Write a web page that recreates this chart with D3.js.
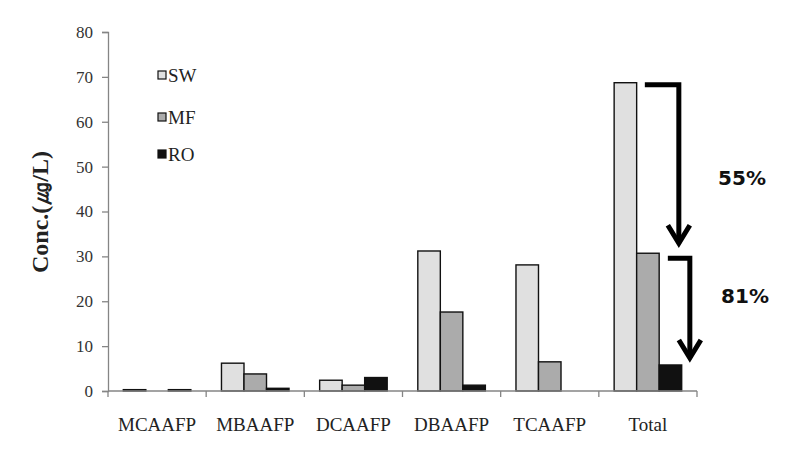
<!DOCTYPE html>
<html>
<head>
<meta charset="utf-8">
<script src="https://cdn.jsdelivr.net/npm/d3@7/dist/d3.min.js"></script>
<style>
  body { margin: 0; background: #fff; }
  svg { display: block; }
</style>
</head>
<body>
<div id="chart"></div>
<script>
// categories and series
const categories = ["MCAAFP", "MBAAFP", "DCAAFP", "DBAAFP", "TCAAFP", "Total"];
const seriesNames = ["SW", "MF", "RO"];
const swValues = [0.3, 6.2, 2.4, 31.2, 28.1, 68.7];
const mfValues = [0, 3.8, 1.3, 17.6, 6.5, 30.7];
const roValues = [0.3, 0.6, 3.0, 1.3, 0, 5.8];
const yTicks = [0, 10, 20, 30, 40, 50, 60, 70, 80];
const seriesColors = ["#e0e0e0", "#ababab", "#111111"];

const width = 786, height = 456;
const margin = { top: 32, left: 108, right: 89, bottom: 65 };

const svg = d3.select("#chart").append("svg")
  .attr("width", width)
  .attr("height", height);

const x = d3.scaleBand()
  .domain(categories)
  .range([margin.left, width - margin.right]);

const sub = d3.scaleBand()
  .domain(seriesNames)
  .range([0, x.bandwidth()])
  .paddingInner(0)
  .paddingOuter(0.68);

const y = d3.scaleLinear()
  .domain([0, 80])
  .range([height - margin.bottom, margin.top]);

const serif = "'Liberation Serif', 'DejaVu Serif', serif";

// bars
const rows = categories.map((c, i) => ({
  cat: c,
  vals: [swValues[i], mfValues[i], roValues[i]]
}));

const groups = svg.append("g")
  .selectAll("g")
  .data(rows)
  .join("g")
  .attr("transform", (d) => `translate(${x(d.cat)},0)`);

groups.selectAll("rect")
  .data((d) => d.vals.map((v, j) => ({ name: seriesNames[j], v, j })))
  .join("rect")
  .filter((d) => d.v > 0)
  .attr("x", (d) => sub(d.name))
  .attr("width", sub.bandwidth())
  .attr("y", (d) => y(d.v))
  .attr("height", (d) => y(0) - y(d.v))
  .attr("fill", (d) => seriesColors[d.j])
  .attr("stroke", "#111")
  .attr("stroke-width", 1.4);

// y axis
const yAxis = svg.append("g")
  .attr("transform", `translate(${margin.left},0)`)
  .call(d3.axisLeft(y).tickValues(yTicks).tickSize(6).tickPadding(9))
  .attr("font-family", serif)
  .attr("font-size", 17);
yAxis.select(".domain").attr("stroke", "#858585").attr("stroke-width", 1.3);
yAxis.selectAll(".tick line").attr("stroke", "#858585").attr("stroke-width", 1.3);
yAxis.selectAll(".tick text").attr("fill", "#333");

// x axis: baseline plus ticks at band boundaries
const xAxis = svg.append("g");
xAxis.append("line")
  .attr("x1", margin.left).attr("x2", width - margin.right)
  .attr("y1", y(0)).attr("y2", y(0))
  .attr("stroke", "#858585").attr("stroke-width", 1.3);
const bounds = categories.map((c) => x(c)).concat([x(categories[categories.length - 1]) + x.bandwidth()]);
xAxis.selectAll(".bt")
  .data(bounds)
  .join("line")
  .attr("x1", (d) => d).attr("x2", (d) => d)
  .attr("y1", y(0)).attr("y2", y(0) + 6)
  .attr("stroke", "#858585").attr("stroke-width", 1.3);
xAxis.selectAll("text")
  .data(categories)
  .join("text")
  .attr("x", (d) => x(d) + x.bandwidth() / 2)
  .attr("y", 431)
  .attr("text-anchor", "middle")
  .attr("font-family", serif)
  .attr("font-size", 19)
  .attr("fill", "#222")
  .text((d) => d);

// y axis title
svg.append("text")
  .attr("transform", "translate(48,212) rotate(-90)")
  .attr("text-anchor", "middle")
  .attr("font-family", serif)
  .attr("font-weight", "bold")
  .attr("font-size", 24)
  .attr("fill", "#222")
  .text("Conc.(㎍/L)");

// legend
const legend = svg.append("g").attr("transform", "translate(158,0)");
const legendY = [76, 118, 155];
seriesNames.forEach((n, i) => {
  legend.append("rect")
    .attr("x", 0).attr("y", legendY[i] - 5)
    .attr("width", 8).attr("height", 8)
    .attr("fill", seriesColors[i])
    .attr("stroke", "#111").attr("stroke-width", 1.2);
  legend.append("text")
    .attr("x", 10).attr("y", legendY[i] + 6)
    .attr("font-family", serif)
    .attr("font-size", 19)
    .attr("fill", "#222")
    .text(n);
});

// reduction arrows on the Total group
const tot = categories.length - 1;
const totX = x(categories[tot]);
function arrow(xStart, xCorner, yTop, yTip) {
  const g = svg.append("g")
    .attr("fill", "none")
    .attr("stroke", "#000")
    .attr("stroke-width", 5);
  g.append("path")
    .attr("d", `M${xStart},${yTop} H${xCorner} V${yTip - 2}`)
    .attr("stroke-linejoin", "miter");
  g.append("path")
    .attr("d", `M${xCorner - 11},${yTip - 20} L${xCorner},${yTip - 2} L${xCorner + 11},${yTip - 20}`)
    .attr("stroke-linejoin", "miter");
}
arrow(totX + 46, totX + 80, y(swValues[tot]) + 2, y(mfValues[tot]) - 8);
arrow(totX + 69, totX + 91, y(mfValues[tot]) + 5, y(roValues[tot]) - 5);

const labelFont = "'DejaVu Sans', 'Noto Sans', sans-serif";
[["55%", 742, 185], ["81%", 745, 303]].forEach(([t, lx, ly]) => {
  svg.append("text")
    .attr("x", lx).attr("y", ly)
    .attr("text-anchor", "middle")
    .attr("font-family", labelFont)
    .attr("font-weight", "bold")
    .attr("font-size", 20)
    .attr("fill", "#111")
    .text(t);
});
</script>
</body>
</html>
